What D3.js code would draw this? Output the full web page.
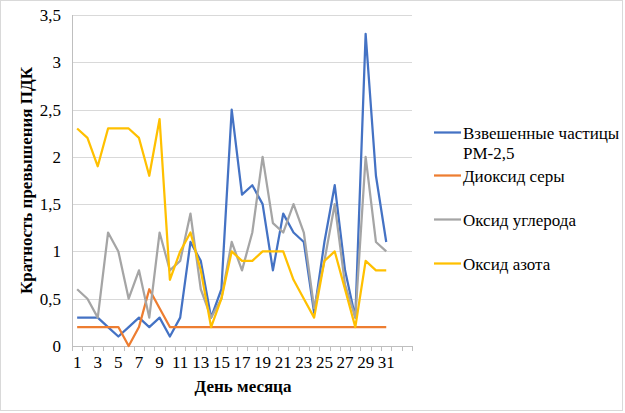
<!DOCTYPE html>
<html><head><meta charset="utf-8"><script src="https://cdn.jsdelivr.net/npm/d3@7"></script></head>
<body style="margin:0">
<svg id="chart" width="625" height="413"></svg>
<script>
const days = d3.range(1, 34); // 33 category slots, last two empty
const dayLabels = days.map(d => (d <= 31 && d % 2 === 1) ? String(d) : "");
const yTicks = [0, 0.5, 1, 1.5, 2, 2.5, 3, 3.5];

const pm25 = [0.3,0.3,0.3,0.2,0.1,0.2,0.3,0.2,0.3,0.1,0.3,1.1,0.9,0.3,0.6,2.5,1.6,1.7,1.5,0.8,1.4,1.2,1.1,0.35,1.1,1.7,0.8,0.3,3.3,1.8,1.1];
const so2  = [0.2,0.2,0.2,0.2,0.2,0,0.2,0.6,0.4,0.2,0.2,0.2,0.2,0.2,0.2,0.2,0.2,0.2,0.2,0.2,0.2,0.2,0.2,0.2,0.2,0.2,0.2,0.2,0.2,0.2,0.2];
const co   = [0.6,0.5,0.3,1.2,1.0,0.5,0.8,0.3,1.2,0.8,0.9,1.4,0.6,0.3,0.5,1.1,0.8,1.2,2.0,1.3,1.2,1.5,1.2,0.4,0.9,1.5,0.65,0.3,2.0,1.1,1.0];
const nox  = [2.3,2.2,1.9,2.3,2.3,2.3,2.2,1.8,2.4,0.7,1.0,1.2,0.8,0.2,0.5,1.0,0.9,0.9,1.0,1.0,1.0,0.7,0.5,0.3,0.9,1.0,0.6,0.2,0.9,0.8,0.8];

const seriesNames = ["Взвешенные частицы PM-2,5", "Диоксид серы", "Оксид углерода", "Оксид азота"];
const seriesColors = ["#4472C4", "#ED7D31", "#A5A5A5", "#FFC000"];
const seriesValues = [pm25, so2, co, nox];

const FONT = "'Liberation Serif'";
const svg = d3.select("#chart");
const m = { left: 72, right: 412, top: 15, bottom: 346 };
const txt = (sel) => sel.style("font-family", FONT).attr("fill", "#000");

svg.append("rect").attr("x", 0.5).attr("y", 0.5).attr("width", 622).attr("height", 410)
  .attr("fill", "#fff").attr("stroke", "#d9d9d9");

const x = d3.scaleBand().domain(days).range([m.left, m.right]).padding(0);
const xc = d => x(d) + x.bandwidth() / 2;
const y = d3.scaleLinear().domain([0, 3.5]).range([m.bottom, m.top]);

// gridlines
svg.append("g").selectAll("line").data(yTicks.filter(t => t > 0)).join("line")
  .attr("x1", m.left).attr("x2", m.right)
  .attr("y1", d => Math.round(y(d)) + 0.5).attr("y2", d => Math.round(y(d)) + 0.5)
  .attr("stroke", "#d9d9d9").attr("stroke-width", 1);

// y axis labels
const fmt = d => String(d).replace(".", ",");
svg.append("g").selectAll("text").data(yTicks).join("text")
  .attr("x", 61).attr("y", d => y(d) + 6)
  .attr("text-anchor", "end").attr("font-size", 17).call(txt).text(fmt);

// y axis line
svg.append("line").attr("x1", m.left + 0.5).attr("x2", m.left + 0.5)
  .attr("y1", m.top).attr("y2", m.bottom).attr("stroke", "#bfbfbf");

// x axis line, boundary ticks, labels
svg.append("line").attr("x1", m.left).attr("x2", m.right)
  .attr("y1", Math.round(m.bottom) + 0.5).attr("y2", Math.round(m.bottom) + 0.5).attr("stroke", "#bfbfbf");
const bounds = days.map(d => x(d)).concat([m.right]);
svg.append("g").selectAll("line").data(bounds).join("line")
  .attr("x1", d => Math.round(d) + 0.5).attr("x2", d => Math.round(d) + 0.5)
  .attr("y1", m.bottom).attr("y2", m.bottom + 5)
  .attr("stroke", "#bfbfbf");
svg.append("g").selectAll("text").data(days.filter((d, i) => dayLabels[i] !== "")).join("text")
  .attr("x", d => xc(d)).attr("y", m.bottom + 22).attr("text-anchor", "middle")
  .attr("font-size", 17).call(txt).text(d => dayLabels[days.indexOf(d)]);

// lines
const line = d3.line().x((v, i) => xc(days[i])).y(v => y(v));
seriesValues.forEach((vals, k) => {
  svg.append("path").datum(vals).attr("d", line)
    .attr("fill", "none").attr("stroke", seriesColors[k]).attr("stroke-width", 2.25)
    .attr("stroke-linejoin", "round");
});

// axis titles
svg.append("text").attr("x", 243).attr("y", 392).attr("text-anchor", "middle")
  .call(txt).attr("font-size", 17).attr("font-weight", "bold").text("День месяца");
svg.append("text").attr("transform", `translate(32,${(m.top + m.bottom) / 2}) rotate(-90)`)
  .call(txt).attr("text-anchor", "middle").attr("font-size", 17).attr("font-weight", "bold")
  .text("Кратность превышения ПДК");

// legend
const legY = [132.5, 175.5, 219.5, 263.5];
const leg = svg.append("g");
seriesNames.forEach((name, k) => {
  leg.append("line").attr("x1", 434).attr("x2", 461).attr("y1", legY[k]).attr("y2", legY[k])
    .attr("stroke", seriesColors[k]).attr("stroke-width", 2.25);
  const lines = k === 0 ? ["Взвешенные частицы", "PM-2,5"] : [name];
  lines.forEach((t, j) => {
    leg.append("text").attr("x", 463).attr("y", legY[k] + j * 20 + 6)
      .call(txt).attr("font-size", 17).text(t);
  });
});
</script>
</body>
</html>
